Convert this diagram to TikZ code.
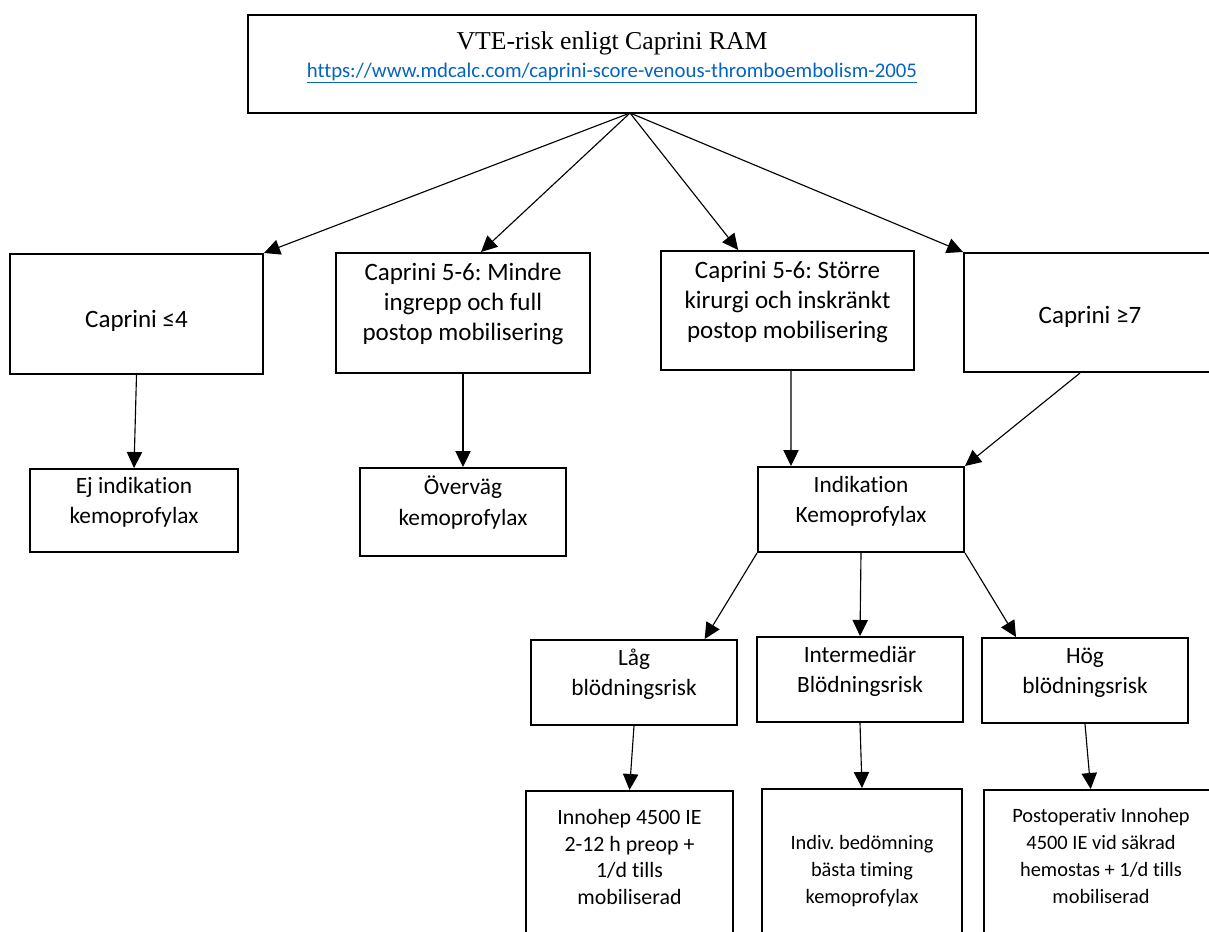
\documentclass[tikz,border=0pt]{standalone}
\usepackage{fontspec}
\setmainfont{Carlito}[Ligatures=NoCommon]
\newfontfamily\titlefont{Liberation Serif}
\usetikzlibrary{arrows.meta,fit}
\definecolor{linkblue}{HTML}{0563C1}
\frenchspacing
\begin{document}
\begin{tikzpicture}[x=0.75pt,y=-0.75pt,
  box/.style={draw=black, line width=1.5pt, inner sep=0pt, align=center},
  fA/.style={font=\fontsize{18.75}{22.5}\selectfont},
  fB/.style={font=\fontsize{17.5}{23}\selectfont},
  fC/.style={font=\fontsize{16.4}{20}\selectfont},
  fD/.style={font=\fontsize{15.3}{20.2}\selectfont},
  txt/.style={inner sep=0pt, align=center},
  conn/.style={line width=0.85pt, -{Triangle[length=12pt,width=11.5pt]}},
]
\useasboundingbox (0,0) rectangle (1209,931);
\clip (0,0) rectangle (1209,931);
% top box
\node[box, line width=2.2pt, fit={(248,15) (976,113)}] (top) {};
\node[txt, font=\titlefont\fontsize{19.3}{23}\selectfont] (title) at (612,43) {VTE-risk enligt Caprini RAM};
\node[txt, text=linkblue, font=\fontsize{15.6}{19}\selectfont] (url) at (612,73) {\underline{https://www.mdcalc.com/caprini-score-venous-thromboembolism-2005}};
\coordinate (src) at (630,113);
% level 1
\node[box, fit={(10,254) (263,374)}] (a1) {};
\node[txt, fA] (a1t) at (136.5,321) {Caprini ≤4};
\node[box, fA, fit={(336,253) (590,373)}] (a2) {Caprini 5-6: Mindre\\ingrepp och full\\postop mobilisering};
\node[box, fA, fit={(661,251) (914,370)}] (a3) {Caprini 5-6: Större\\kirurgi och inskränkt\\postop mobilisering};
\node[box, fit={(964,253) (1216,372)}] (a4) {};
\node[txt, fA] (a4t) at (1090,317) {Caprini ≥7};
% level 2
\node[box, fB, fit={(30,469) (238,552)}] (b1) {Ej indikation\\kemoprofylax};
\node[box, fB, fit={(360,468) (566,556)}] (b2) {Överväg\\kemoprofylax};
\node[box, fB, fit={(758,467) (964,552)}] (b3) {Indikation\\Kemoprofylax};
% level 3
\node[box, fB, fit={(531,640) (737,725)}] (c1) {Låg\\blödningsrisk};
\node[box, fB, fit={(757,637) (963,722)}] (c2) {Intermediär\\Blödningsrisk};
\node[box, fB, fit={(982,638) (1188,723)}] (c3) {Hög\\blödningsrisk};
% level 4
\node[box, fit={(526,791) (733,945)}] (d1) {};
\node[txt, fC] (d1t) at (629.5,857) {Innohep 4500 IE\\2-12 h preop +\\1/d tills\\mobiliserad};
\node[box, fit={(762,789) (962,945)}] (d2) {};
\node[txt, fD] (d2t) at (862,871) {Indiv. bedömning\\bästa timing\\kemoprofylax};
\node[box, fit={(984,790) (1216,945)}] (d3) {};
\node[txt, fD] (d3t) at (1101,856) {Postoperativ Innohep\\4500 IE vid säkrad\\hemostas + 1/d tills\\mobiliserad};
% connectors
\draw[conn] (src) -- (a1.north east);
\draw[conn] (src) -- ([xshift=13.5pt]a2.north);
\draw[conn] (src) -- ([xshift=-37pt]a3.north);
\draw[conn] (src) -- (a4.north west);
\draw[conn] (a1.south) -- (b1.north);
\draw[conn] (a2.south) -- (b2.north);
\draw[conn] ([xshift=2.6pt]a3.south) -- ([xshift=-52.5pt]b3.north);
\draw[conn] ([xshift=-7.5pt]a4.south) -- (b3.north east);
\draw[conn] (b3.south west) -- ([xshift=53pt]c1.north);
\draw[conn] (b3.south) -- (c2.north);
\draw[conn] (b3.south east) -- ([xshift=-51.75pt]c3.north);
\draw[conn] (c1.south) -- (d1.north);
\draw[conn] (c2.south) -- (d2.north);
\draw[conn] (c3.south) -- ([xshift=-7pt]d3.north);
\end{tikzpicture}
\end{document}
